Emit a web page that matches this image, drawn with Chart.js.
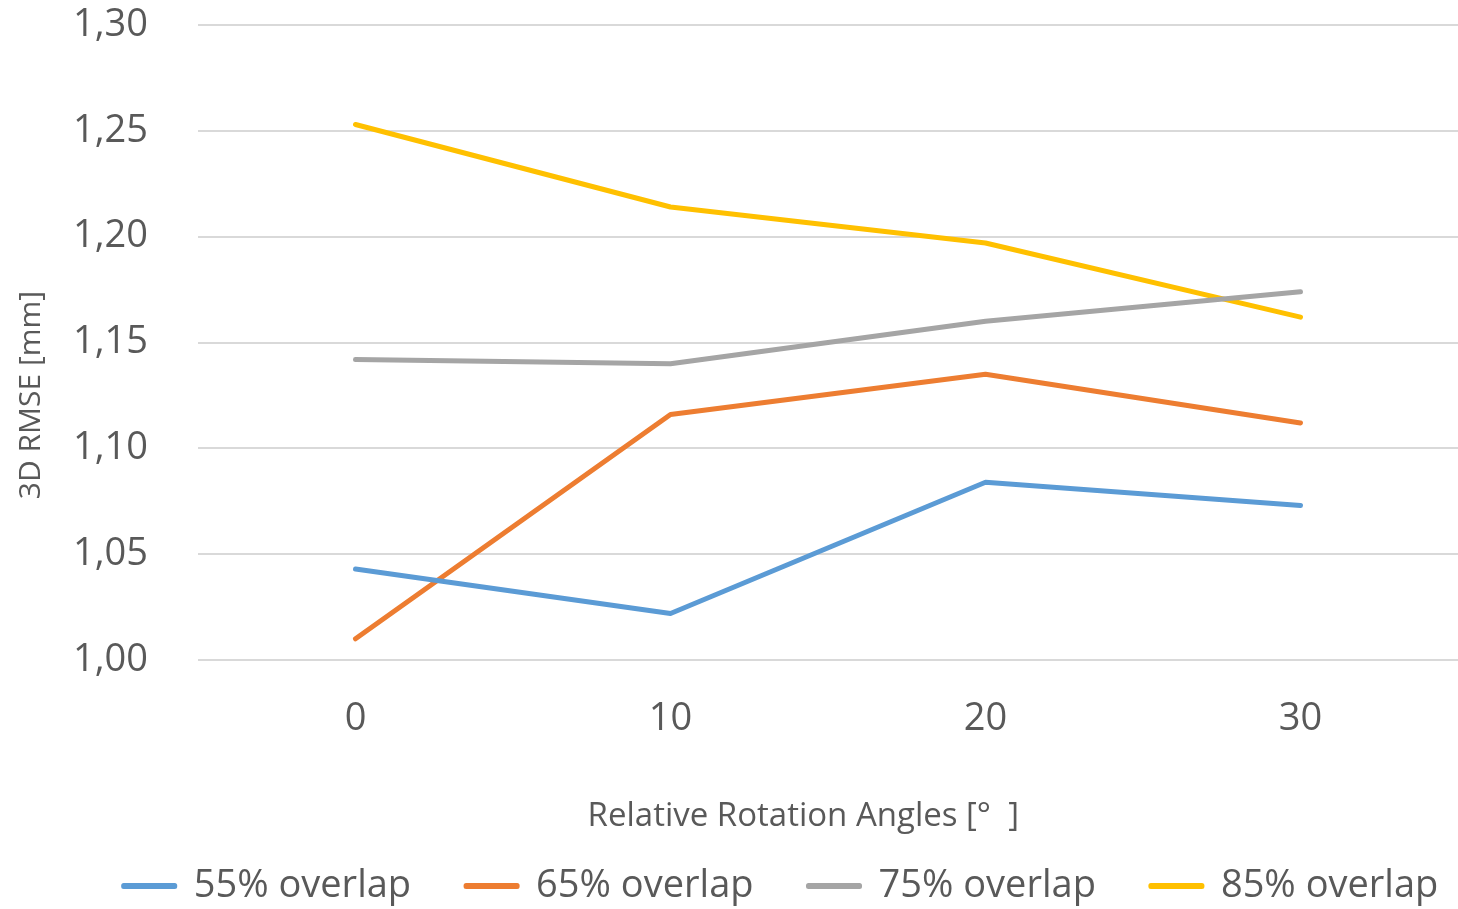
<!DOCTYPE html>
<html>
<head>
    <title>3D RMSE vs Rotation</title>
    <style>
        html, body { margin: 0; padding: 0; background: #fff; }
        #wrap { width: 1458px; height: 909px; }
    </style>
</head>
<body>
    <div id="wrap"><canvas id="chart"></canvas></div>

    <script src="https://cdn.jsdelivr.net/npm/chart.js"></script>
    <script>
        // values
        const angles = ['0', '10', '20', '30'];
        const overlap55 = [1.043, 1.022, 1.084, 1.073];
        const overlap65 = [1.010, 1.116, 1.135, 1.112];
        const overlap75 = [1.142, 1.140, 1.160, 1.174];
        const overlap85 = [1.253, 1.214, 1.197, 1.162];
        const seriesNames = ['55% overlap', '65% overlap', '75% overlap', '85% overlap'];
        const seriesColors = ['#5b9bd5', '#ed7d31', '#a5a5a5', '#ffc000'];

        const font = "'Open Sans', sans-serif";
        const textColor = '#595959';

        function makeSet(i, data) {
            return {
                label: seriesNames[i],
                data: data,
                borderColor: seriesColors[i],
                backgroundColor: seriesColors[i],
                borderWidth: 5,
                borderCapStyle: 'round',
                borderJoinStyle: 'round',
                pointRadius: 0,
                tension: 0
            };
        }

        // the legend padding is wide (for spacing between items), so keep
        // its box short and move the row a little to the right
        const legendTweak = {
            id: 'legendTweak',
            afterInit(chart) {
                const legend = chart.legend;
                const fit = legend.fit.bind(legend);
                legend.fit = function () {
                    fit();
                    this.height = 97;
                };
            },
            afterLayout(chart) {
                chart.legend.left += 52;
                chart.legend.right += 52;
            }
        };

        const ctx = document.getElementById('chart').getContext('2d');
        new Chart(ctx, {
            type: 'line',
            data: {
                labels: angles,
                datasets: [
                    makeSet(0, overlap55),
                    makeSet(1, overlap65),
                    makeSet(2, overlap75),
                    makeSet(3, overlap85)
                ]
            },
            plugins: [legendTweak],
            options: {
                responsive: true,
                maintainAspectRatio: false,
                animation: false,
                layout: { autoPadding: false, padding: { top: 25, right: 0, bottom: 0, left: 0 } },
                plugins: {
                    tooltip: { enabled: false },
                    legend: {
                        position: 'bottom',
                        labels: {
                            color: textColor,
                            font: { family: font, size: 38 },
                            boxWidth: 51,
                            boxHeight: 1,
                            padding: 55
                        }
                    }
                },
                scales: {
                    x: {
                        offset: true,
                        grid: { display: false, drawTicks: false },
                        border: { display: false },
                        ticks: {
                            color: textColor,
                            font: { family: font, size: 38 },
                            padding: 36
                        },
                        title: {
                            display: true,
                            text: 'Relative Rotation Angles [°  ]\u2003\u2002',
                            color: textColor,
                            font: { family: font, size: 33 },
                            padding: { top: 0, bottom: -24 }
                        },
                        afterFit: function (scale) { scale.height = 152; }
                    },
                    y: {
                        min: 1.0,
                        max: 1.3,
                        grid: { color: '#d9d9d9', lineWidth: 2, drawTicks: false },
                        border: { display: false },
                        ticks: {
                            stepSize: 0.05,
                            color: textColor,
                            font: { family: font, size: 38 },
                            padding: 50,
                            callback: function (value) {
                                return value.toFixed(2).replace('.', ',');
                            }
                        },
                        title: {
                            display: true,
                            text: '3D RMSE [mm]\u2003\u2003\u2003\u2002',
                            color: textColor,
                            font: { family: font, size: 30 },
                            padding: { top: 13, bottom: 0 }
                        },
                        afterFit: function (scale) {
                            scale.width = 198;
                            // tick padding would otherwise push the plot down
                            scale.paddingTop = 0;
                            scale.paddingBottom = 0;
                        }
                    }
                }
            }
        });
    </script>
</body>
</html>
